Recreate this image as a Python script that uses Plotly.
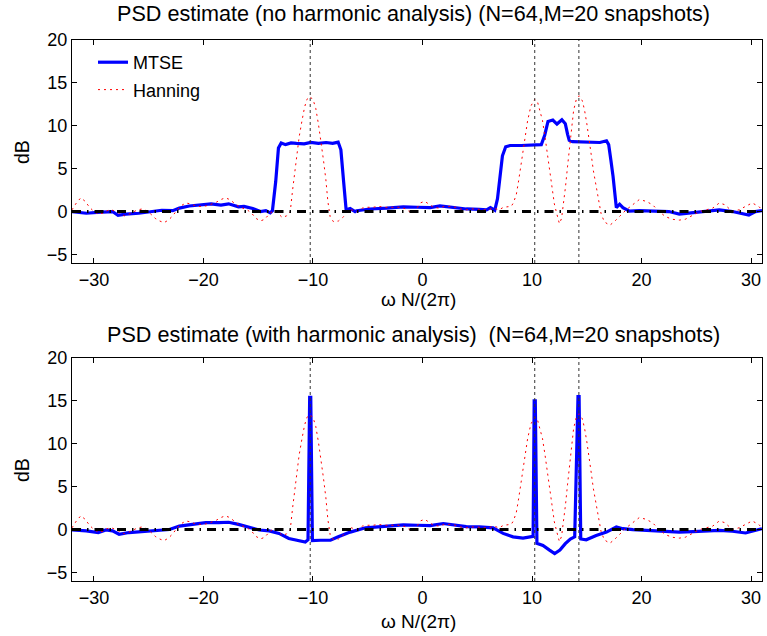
import plotly.graph_objects as go
from plotly.subplots import make_subplots

# ---------------- data ----------------
x_range = [-32, 31]
y_range = [-6, 20]
x_ticks = [-30, -20, -10, 0, 10, 20, 30]
y_ticks = [-5, 0, 5, 10, 15, 20]
true_freqs = [-10.25, 10.25, 14.28]
baseline_level = 0.0

# MTSE, no harmonic analysis
mtse_top_x = [-32.0, -30.7, -29.7, -28.9, -28.3, -27.8, -27.1, -25.9, -24.4, -23.8, -22.8, -22.2,
              -21.3, -20.4, -19.3, -18.4, -17.7, -16.8, -16.3, -15.5, -14.8, -14.3, -13.9, -13.7,
              -13.4, -13.15, -12.9, -12.5, -12.0, -11.5, -10.8, -10.2, -9.5, -8.8, -8.2, -7.7,
              -7.45, -7.2, -6.97, -6.6, -6.15, -6.0, -4.8, -3.25, -1.75, -0.5, 0.7, 1.6, 2.8,
              4.0, 5.2, 5.85, 6.2, 6.6, 6.85, 7.06, 7.3, 7.6, 8.0, 9.0, 10.0, 10.85, 11.16,
              11.46, 11.9, 12.28, 12.73, 13.04, 13.25, 13.4, 13.7, 15.25, 16.2, 16.8, 17.0,
              17.2, 17.4, 17.7, 18.0, 18.3, 18.9, 19.8, 21.6, 22.5, 23.45, 24.1, 24.7, 25.9,
              27.1, 28.3, 29.8, 30.4, 31.0]
mtse_top_y = [0.0, -0.2, -0.1, 0.0, 0.0, -0.45, -0.3, -0.2, 0.1, 0.15, 0.1, 0.4,
              0.65, 0.8, 0.9, 0.75, 0.9, 0.55, 0.6, 0.35, 0.0, 0.1, -0.15, 0.1,
              3.5, 7.4, 8.0, 7.8, 8.0, 7.95, 7.9, 8.05, 7.95, 8.05, 7.95, 8.1,
              7.2, 3.5, 0.2, 0.35, 0.0, 0.1, 0.3, 0.4, 0.55, 0.5, 0.45, 0.65, 0.45,
              0.3, 0.25, 0.2, 0.45, 0.15, 1.5, 4.05, 6.5, 7.55, 7.7, 7.7, 7.75, 7.8, 8.9,
              10.5, 10.67, 10.2, 10.7, 10.25, 9.0, 8.3, 8.15, 8.1, 8.05, 8.25, 7.8,
              6.0, 4.1, 0.45, 0.85, 0.45, 0.05, 0.1, 0.0, 0.0, -0.3, -0.2, -0.1, 0.1,
              0.2, 0.0, -0.4, 0.0, 0.1]

# Hanning periodogram (same in both panels)
hann_x = [-32.0, -31.6, -31.2, -30.8, -30.4, -30.0, -29.6, -29.2, -28.8, -28.4, -28.0, -27.6,
          -27.2, -26.8, -26.4, -26.0, -25.6, -25.2, -24.8, -24.4, -24.0, -23.6, -23.2, -22.8,
          -22.4, -22.0, -21.6, -21.2, -20.8, -20.4, -20.0, -19.6, -19.2, -18.8, -18.4, -18.0,
          -17.6, -17.2, -16.8, -16.4, -16.0, -15.6, -15.2, -14.8, -14.4, -14.0, -13.6, -13.2,
          -12.8, -12.4, -12.07, -11.86, -11.68, -11.47, -11.26, -11.0, -10.76, -10.54, -10.25,
          -9.95, -9.74, -9.5, -9.28, -9.04, -8.82, -8.64, -8.43, -8.12, -7.67, -7.2, -6.9,
          -6.5, -6.0, -5.5, -5.0, -4.5, -4.0, -3.5, -3.0, -2.5, -2.0, -1.5, -1.0, -0.6, -0.2,
          0.2, 0.6, 1.0, 1.5, 2.0, 2.5, 3.0, 3.5, 4.0, 4.5, 5.0, 5.5, 6.0, 6.5, 7.0, 7.4,
          7.8, 8.1, 8.3, 8.57, 8.78, 8.96, 9.13, 9.36, 9.6, 9.9, 10.25, 10.5, 10.7, 10.96,
          11.2, 11.4, 11.57, 11.8, 12.04, 12.25, 12.5, 12.7, 12.86, 13.06, 13.24, 13.45,
          13.6, 13.8, 14.05, 14.3, 14.6, 14.8, 15.0, 15.2, 15.4, 15.6, 15.85, 16.06, 16.3,
          16.6, 17.1, 17.5, 18.0, 18.6, 19.2, 19.8, 20.4, 21.0, 21.6, 22.2, 22.8, 23.45,
          24.0, 24.7, 25.3, 25.9, 26.5, 27.1, 27.6, 28.3, 28.9, 29.5, 30.1, 30.7, 31.0]
hann_y = [0.2, 1.0, 1.6, 1.2, 0.5, 0.0, -0.3, -0.2, 0.1, 0.2, 0.0, -0.3,
          -0.5, -0.3, 0.0, 0.2, 0.3, 0.1, -0.3, -0.8, -1.1, -1.3, -1.0, -0.5,
          0.2, 0.7, 1.0, 0.9, 0.7, 0.6, 0.6, 0.7, 0.9, 1.1, 1.4, 1.6,
          1.4, 1.0, 0.6, 0.4, 0.2, -0.2, -0.8, -1.1, -0.9, -0.3, 0.1, -0.2,
          -0.7, -0.5, 0.0, 2.5, 4.4, 6.7, 8.7, 10.6, 12.2, 13.1, 13.4,
          12.9, 12.0, 10.2, 8.3, 6.0, 3.7, 1.2, -0.6, -1.2, -1.1, -0.6, 0.0,
          0.2, 0.0, 0.4, 0.5, 0.5, 0.6, 0.5, 0.5, 0.5, 0.5, 0.3, -0.2, 0.2, 1.0,
          1.2, 0.9, 0.5, 0.4, 0.6, 0.6, 0.5, 0.3, 0.2, 0.3, 0.3, 0.2, 0.2, 0.4, 0.2, 0.5,
          0.6, 0.6, 1.0, 2.0, 3.6, 5.1, 6.7, 8.6, 10.6, 12.3, 13.1, 12.8, 11.9, 10.6,
          8.6, 6.7, 4.8, 2.9, 0.9, -0.2, -1.4, -0.8, 0.7, 2.9, 5.2, 7.5,
          9.5, 11.8, 13.1, 13.5, 12.9, 11.8, 10.3, 8.7, 6.7, 4.8, 2.9, 1.1, -0.2,
          -1.2, -1.6, -1.2, -0.6, 0.2, 0.8, 1.4, 1.2, 0.8, 0.0, -0.6, -0.9, -1.0,
          -0.9, -0.4, 0.0, 0.2, 0.4, 1.0, 0.8, 0.0, 0.2, 0.6, 1.0, 0.6, 0.2]

# MTSE, with harmonic analysis
mtse_bot_x = [-32.0, -30.7, -29.6, -28.9, -28.3, -27.7, -26.8, -25.2, -24.0, -23.1, -22.2, -21.0,
              -19.8, -18.6, -17.7, -16.8, -15.8, -14.9, -14.0, -13.1, -12.2, -11.3, -10.7,
              -10.45, -10.3, -10.2, -10.05, -9.3, -8.4, -7.8, -7.0, -6.6, -5.2, -4.0, -3.25,
              -1.75, -0.5, 0.7, 1.9, 2.8, 4.0, 5.2, 6.45, 7.36, 8.27, 9.18, 9.8, 10.1, 10.2,
              10.3, 10.45, 11.0, 11.6, 12.07, 12.55, 13.04, 13.5, 13.9, 14.2, 14.3, 14.45,
              14.95, 15.86, 16.8, 17.7, 18.3, 19.2, 20.4, 21.9, 23.45, 24.7, 25.9, 27.1,
              28.3, 29.5, 30.7, 31.0]
mtse_bot_y = [-0.05, -0.15, -0.35, -0.05, -0.15, -0.55, -0.35, -0.2, -0.15, 0.0, 0.4, 0.6,
              0.8, 0.8, 0.85, 0.6, 0.25, -0.05, -0.15, -0.45, -1.05, -1.3, -1.45,
              -1.2, 15.4, 15.4, -1.3, -1.25, -1.25, -0.9, -0.5, -0.3, 0.2, 0.35, 0.45,
              0.55, 0.5, 0.45, 0.7, 0.55, 0.35, 0.3, 0.2, -0.45, -0.85, -1.0, -0.9, -0.8, 15.0,
              15.0, -1.6, -1.85, -2.4, -2.8, -2.4, -1.65, -1.1, -0.85, 15.5, 15.5, -1.1,
              -1.2, -0.7, -0.3, 0.3, 0.1, 0.0, -0.1, -0.2, -0.3, -0.25, -0.2, -0.1,
              -0.2, -0.4, 0.0, 0.1]

titles = ["PSD estimate (no harmonic analysis) (N=64,M=20 snapshots)",
          "PSD estimate (with harmonic analysis)  (N=64,M=20 snapshots)"]
x_label = "\u03c9 N/(2\u03c0)"
y_label = "dB"

# ---------------- figure ----------------
FONT = "Liberation Sans, Arial, Helvetica, sans-serif"
W, H = 767, 636
ML, MR, MT = 72, 5, 40
MB = H - 581
PH = H - MT - MB


def py(pix):
    return (H - MB - pix) / PH


def px(pix):
    return (pix - ML) / (W - ML - MR)


fig = make_subplots(rows=2, cols=1, vertical_spacing=0.0)
top_dom = [py(263), 1.0]
bot_dom = [0.0, py(358)]

mtse_sets = [(mtse_top_x, mtse_top_y), (mtse_bot_x, mtse_bot_y)]
for r in (1, 2):
    mx, my = mtse_sets[r - 1]
    fig.add_trace(go.Scatter(x=mx, y=my, mode="lines", name="MTSE",
                             line=dict(color="#0000FF", width=3.2),
                             legendgroup="a", showlegend=(r == 1)), row=r, col=1)
    fig.add_trace(go.Scatter(x=hann_x, y=hann_y, mode="lines", name="Hanning",
                             line=dict(color="#FF0000", width=1, dash="2px,4px"),
                             legendgroup="b", showlegend=(r == 1)), row=r, col=1)
    fig.add_trace(go.Scatter(x=x_range, y=[baseline_level, baseline_level], mode="lines",
                             line=dict(color="black", width=3, dash="9px,6px,1.5px,6px"),
                             showlegend=False, hoverinfo="skip"), row=r, col=1)
    for f in true_freqs:
        fig.add_shape(type="line", xref=("x" if r == 1 else "x2"),
                      yref=("y domain" if r == 1 else "y2 domain"),
                      x0=f, x1=f, y0=0, y1=1,
                      line=dict(color="#333333", width=1, dash="dot"))

axis_common = dict(showline=True, linecolor="black", linewidth=1, mirror="allticks",
                   ticks="inside", ticklen=5, tickcolor="black", showgrid=False,
                   zeroline=False, tickfont=dict(family=FONT, size=18, color="black"))
for r, dom in ((1, top_dom), (2, bot_dom)):
    fig.update_xaxes(range=x_range, tickvals=x_ticks, row=r, col=1, **axis_common)
    fig.update_yaxes(range=y_range, tickvals=y_ticks, domain=dom, row=r, col=1, **axis_common)

ann = []
for t, yy in zip(titles, (py(13), py(334))):
    ann.append(dict(text=t, x=px(413), y=yy, xref="paper", yref="paper", showarrow=False,
                    xanchor="center", yanchor="middle",
                    font=dict(family=FONT, size=21.6, color="black")))
for yy in (py(299), py(621)):
    ann.append(dict(text=x_label, x=px(419), y=yy, xref="paper", yref="paper", showarrow=False,
                    xanchor="center", yanchor="middle",
                    font=dict(family=FONT, size=19, color="black")))
for yy in (py(152), py(470)):
    ann.append(dict(text=y_label, x=px(22), y=yy, xref="paper", yref="paper", showarrow=False,
                    xanchor="center", yanchor="middle", textangle=-90,
                    font=dict(family=FONT, size=19.5, color="black")))

fig.update_layout(
    width=W, height=H,
    margin=dict(l=ML, r=MR, t=MT, b=MB),
    paper_bgcolor="white", plot_bgcolor="white",
    annotations=ann,
    showlegend=True,
    legend=dict(x=px(93), y=py(44), xanchor="left", yanchor="top",
                traceorder="grouped", tracegroupgap=1,
                bgcolor="rgba(255,255,255,0)", borderwidth=0,
                font=dict(family=FONT, size=18, color="black")),
)

fig.write_html("out.html", config={"displayModeBar": False},
               post_script="document.body.style.margin='0';document.body.style.padding='0';")
